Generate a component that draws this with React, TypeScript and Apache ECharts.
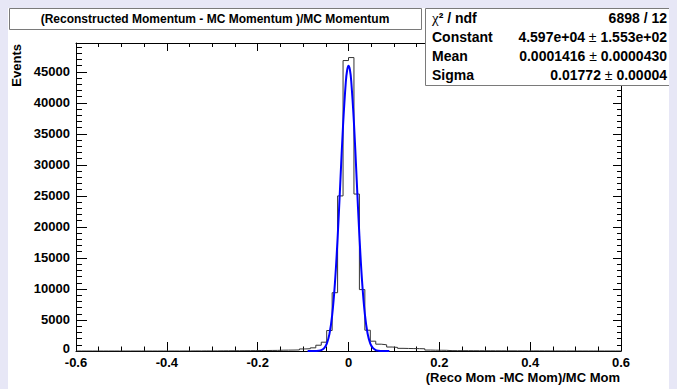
import React, { useEffect, useRef } from "react";
import * as echarts from "echarts";

// ---- data ----
const xMin = -0.6;
const binWidth = 0.012;
// 100 bins from -0.6 to 0.6
const histCounts = [
  0, 0, 0, 0, 0, 0, 0, 0, 0, 0,
  0, 0, 0, 0, 0, 0, 0, 2, 0, 3,
  5, 15, 10, 18, 12, 20, 30, 35, 40, 45,
  50, 55, 60, 70, 80, 90, 100, 130, 140, 150,
  170, 330, 370, 510, 930, 1420, 3300, 9400, 25000, 46820,
  47300, 25300, 9900, 3350, 1580, 1100, 1000, 640, 580, 430,
  410, 390, 380, 360, 150, 130, 120, 110, 60, 55,
  50, 48, 45, 42, 40, 38, 35, 32, 30, 28,
  26, 24, 22, 20, 18, 16, 14, 12, 10, 9,
  8, 6, 5, 4, 3, 2, 1, 0, 0, 0,
];
// Gaussian fit curve points
const fitX = [
  -0.09, -0.084, -0.078, -0.072, -0.066, -0.06, -0.054, -0.048, -0.042, -0.036,
  -0.03, -0.024, -0.018, -0.012, -0.006, -0.003, 0, 0.003, 0.006, 0.012, 0.018,
  0.024, 0.03, 0.036, 0.042, 0.048, 0.054, 0.06, 0.066, 0.072, 0.078, 0.084, 0.09,
];
const fitY = [
  0, 1, 3, 12, 43, 145, 432, 1147, 2717, 5741,
  10817, 18177, 27219, 36353, 43290, 45252, 45969, 45374, 43524, 36744, 27665,
  18567, 11116, 5930, 2823, 1197, 453, 153, 46, 12, 3, 1, 0,
];
const xTicks = { min: -0.6, max: 0.6, interval: 0.2 };
const yTicks = { min: 0, max: 49650, interval: 5000 };

const titleText = "(Reconstructed Momentum - MC Momentum )/MC Momentum";
const xTitle = "(Reco Mom -MC Mom)/MC Mom";
const yTitle = "Events";
const statNames = ["{chi|\u03c7}\u00b2 / ndf", "Constant", "Mean", "Sigma"];
const statValues = [
  "6898 / 12",
  "4.597e+04 {pm|\u00b1} 1.553e+02",
  "0.0001416 {pm|\u00b1} 0.0000430",
  "0.01772 {pm|\u00b1} 0.00004",
];

const FONT = "'Liberation Sans', Arial, Helvetica, sans-serif";

export default function App() {
  const ref = useRef<HTMLDivElement>(null);
  useEffect(() => {
    document.body.style.background = "#e7e7f6";
    const chart = echarts.init(ref.current!, undefined, { renderer: "svg" });

    const histPoints: number[][] = [];
    histCounts.forEach((c, i) => {
      histPoints.push([xMin + i * binWidth, c]);
      histPoints.push([xMin + (i + 1) * binWidth, c]);
    });
    const fitPoints = fitX.map((x, i) => [x, fitY[i]]);

    const labelStyle = {
      color: "#000",
      fontSize: 13,
      fontWeight: "bold" as const,
      fontFamily: FONT,
    };
    const lineBlack = { color: "#000", width: 1 };

    const rowY = [9.5, 28.5, 47.5, 66.5];
    const statGraphics: any[] = [];
    statNames.forEach((n, i) => {
      statGraphics.push({
        type: "text",
        z: 101,
        x: 424,
        y: rowY[i],
        style: {
          text: n,
          fill: "#000",
          fontSize: 14,
          fontWeight: "bold",
          fontFamily: FONT,
          textAlign: "left",
          textVerticalAlign: "middle",
          rich: {
            chi: { fontFamily: "'Liberation Serif', 'DejaVu Serif', serif", fontSize: 15, fontWeight: "normal", fill: "#000" },
          },
        },
      });
      statGraphics.push({
        type: "text",
        z: 101,
        x: 659,
        y: rowY[i],
        style: {
          text: statValues[i],
          fill: "#000",
          fontSize: 14,
          fontWeight: "bold",
          fontFamily: FONT,
          textAlign: "right",
          textVerticalAlign: "middle",
          rich: {
            pm: { fontFamily: FONT, fontSize: 14, fontWeight: "normal", fill: "#000" },
          },
        },
      });
    });

    chart.setOption({
      animation: false,
      backgroundColor: "#ffffff",
      grid: { left: 68, top: 35, width: 545, height: 308, show: false },
      xAxis: [
        {
          type: "value",
          position: "bottom",
          min: xTicks.min,
          max: xTicks.max,
          interval: xTicks.interval,
          axisLine: { onZero: false, lineStyle: lineBlack },
          axisTick: { inside: true, length: 9, lineStyle: lineBlack },
          minorTick: { show: true, splitNumber: 4, length: 4.5, lineStyle: lineBlack },
          splitLine: { show: false },
          axisLabel: { ...labelStyle, margin: 5 },
        },
        {
          type: "value",
          position: "top",
          min: xTicks.min,
          max: xTicks.max,
          interval: xTicks.interval,
          axisLine: { onZero: false, lineStyle: lineBlack },
          axisTick: { inside: true, length: 8, lineStyle: lineBlack },
          minorTick: { show: true, splitNumber: 4, length: 4, lineStyle: lineBlack },
          splitLine: { show: false },
          axisLabel: { show: false },
        },
      ],
      yAxis: [
        {
          type: "value",
          position: "left",
          min: yTicks.min,
          max: yTicks.max,
          interval: yTicks.interval,
          axisLine: { onZero: false, lineStyle: lineBlack },
          axisTick: { inside: true, length: 11, lineStyle: lineBlack },
          minorTick: { show: true, splitNumber: 5, length: 6, lineStyle: lineBlack },
          splitLine: { show: false },
          axisLabel: {
            ...labelStyle,
            margin: 6,
            showMaxLabel: false,
            formatter: (v: number) =>
              v === 0 ? "{z|0}" : v % yTicks.interval === 0 ? String(v) : "",
            rich: {
              z: { ...labelStyle, padding: [0, 0, 5, 0] },
            },
          },
        },
        {
          type: "value",
          position: "right",
          min: yTicks.min,
          max: yTicks.max,
          interval: yTicks.interval,
          axisLine: { onZero: false, lineStyle: lineBlack },
          axisTick: { inside: true, length: 8, lineStyle: lineBlack },
          minorTick: { show: true, splitNumber: 5, length: 4, lineStyle: lineBlack },
          splitLine: { show: false },
          axisLabel: { show: false },
        },
      ],
      series: [
        {
          type: "line",
          xAxisIndex: 0,
          yAxisIndex: 0,
          data: histPoints,
          symbol: "none",
          lineStyle: { color: "#333333", width: 1 },
          z: 2,
        },
        {
          type: "line",
          xAxisIndex: 0,
          yAxisIndex: 0,
          data: fitPoints,
          symbol: "none",
          smooth: 0.4,
          lineStyle: { color: "#0000ff", width: 2 },
          z: 3,
        },
      ],
      graphic: [
        {
          type: "rect",
          z: 100,
          shape: { x: 1.5, y: 0.5, width: 412, height: 21 },
          style: { fill: "#ffffff", stroke: "#7a7a7a", lineWidth: 1 },
        },
        {
          type: "text",
          z: 101,
          x: 207,
          y: 11,
          style: {
            text: titleText,
            fill: "#000",
            fontSize: 12,
            fontWeight: "bold",
            fontFamily: FONT,
            textAlign: "center",
            textVerticalAlign: "middle",
          },
        },
        {
          type: "rect",
          z: 100,
          shape: { x: 417.5, y: 0.5, width: 249, height: 77 },
          style: { fill: "#ffffff", stroke: "#7a7a7a", lineWidth: 1 },
        },
        ...statGraphics,
        {
          type: "text",
          z: 101,
          x: 612,
          y: 369,
          style: {
            text: xTitle,
            fill: "#000",
            fontSize: 13,
            fontWeight: "bold",
            fontFamily: FONT,
            textAlign: "right",
            textVerticalAlign: "middle",
          },
        },
        {
          type: "text",
          z: 101,
          x: 8,
          y: 36,
          rotation: Math.PI / 2,
          style: {
            text: yTitle,
            fill: "#000",
            fontSize: 13,
            fontWeight: "bold",
            fontFamily: FONT,
            textAlign: "right",
            textVerticalAlign: "middle",
          },
        },
      ],
    });
    return () => chart.dispose();
  }, []);
  return <div ref={ref} style={{ width: 669, height: 381 }} />;
}
